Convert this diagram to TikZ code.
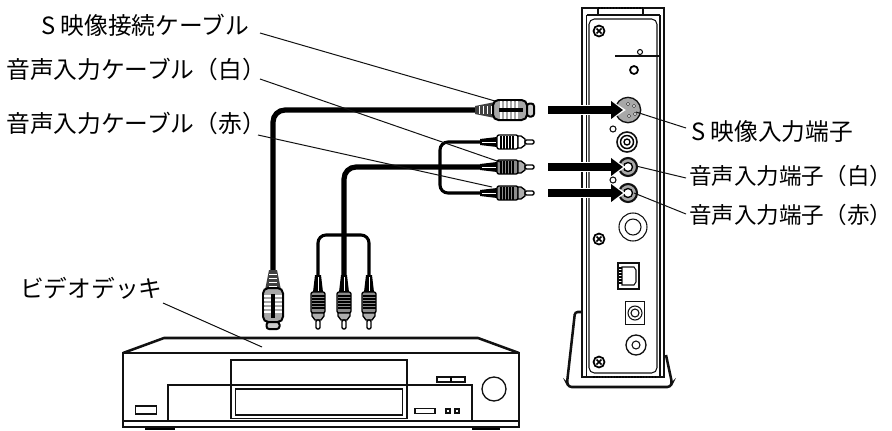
\documentclass[tikz,border=0pt]{standalone}
\usepackage{fontspec}
\setmainfont{Noto Sans CJK JP}
\usetikzlibrary{arrows.meta,positioning,calc}
\definecolor{PlugGrey}{HTML}{8C8C8C}
\definecolor{PortGrey}{HTML}{A8A8A8}
\definecolor{LineDark}{HTML}{111111}
\tikzset{
  labeltext/.style={anchor=west,inner sep=0pt,font=\fontsize{17.8pt}{20pt}\selectfont},
  edgetext/.style={labeltext,font=\fontsize{16.9pt}{20pt}\selectfont},
  leader/.style={draw=LineDark,line width=.75pt},
  cable/.style={draw=black,line width=3.9pt,rounded corners=9pt},
  branch/.style={draw=black,line width=2.3pt,rounded corners=6pt},
  thinline/.style={draw=LineDark,line width=.8pt},
  outline/.style={draw=LineDark,line width=1.9pt},
  halo/.style={draw=white,line width=8pt,shorten >=1.5pt,-{Triangle[length=12pt,width=15pt]}},
  pushto/.style={draw=black,line width=5.8pt,shorten >=3.75pt,-{Triangle[length=9pt,width=13pt]}},
  port/.style={circle,draw=LineDark,line width=.8pt,inner sep=0pt},
  pics/rcaplug/.style={code={
    \fill[black] (0,-3) -- (17,-5) -- (17,5) -- (0,3) -- cycle;
    \draw[white,line width=.5pt] (2,0) -- (16,0);
    \fill[#1,draw=black,line width=1pt,rounded corners=1.5pt] (17,-7) rectangle (38,7);
    \foreach \x in {21,24,27,30,33} \draw[black,line width=.9pt] (\x,-6.5) -- (\x,6.5);
    \fill[#1!70,draw=black,line width=1pt] (38,-6) -- (41,-6) -- (45,-3) -- (45,3) -- (41,6) -- (38,6) -- cycle;
    \fill[white,draw=black,line width=1pt,rounded corners=1pt] (45,-2) -- (54,-2) -- (54,2) -- (45,2) -- cycle;
  }},
  pics/splug/.style={code={
    \fill[black!75] (0,-4) -- (20,-8) -- (20,8) -- (0,4) -- cycle;
    \foreach \x in {4,8,12,16} \draw[white,line width=.5pt] (\x,-4) -- (\x,4);
    \fill[PortGrey,draw=black,line width=1.5pt,rounded corners=4pt] (18,-10) rectangle (52,10);
    \foreach \x in {26,30,34,38,42} \draw[white,line width=.8pt] (\x,-9) -- (\x,9);
    \draw[black,line width=1.2pt] (25,-1) rectangle (47,1);
    \fill[PortGrey!60,draw=black,line width=1.5pt,rounded corners=2pt] (52,-6.5) rectangle (59,6.5);
  }},
}
\begin{document}
\begin{tikzpicture}[x=.75pt,y=-.75pt]
  \useasboundingbox (0,0) rectangle (892,430);
  % labels
  \node[labeltext] (scable) at (41,25) {S 映像接続ケーブル};
  \node[labeltext] (wcable) at (6,69) {音声入力ケーブル（白）};
  \node[labeltext] (rcable) at (6,123) {音声入力ケーブル（赤）};
  \node[labeltext] (vcrlabel) at (20,288) {ビデオデッキ};
  \node[labeltext] (sinput) at (691,132) {S 映像入力端子};
  \node[edgetext] (winput) at (689,176) {音声入力端子（白）};
  \node[edgetext] (rinput) at (689,215) {音声入力端子（赤）};

  % stand and case
  \draw[outline,rounded corners=2pt] (582,312) -- (575,312) -- (567,383) -- (569,387) -- (670,387) -- (672,383) -- (666,355);
  \fill[white,draw=LineDark,line width=1.9pt] (582,8) rectangle (664,377);
  \draw[thinline] (586.5,15) -- (586.5,377) (660,15) -- (660,377) (586.5,15) -- (660,15);
  \draw[thinline,rounded corners=4pt] (589,19) rectangle (657,373);
  \draw[thinline] (598,8) -- (598,15) (643,8) -- (643,15);
  \draw[line width=1.2pt,densely dotted] (598,8) -- (643,8) (593,377) -- (657,377);
  \foreach \p in {(599,31),(599,239),(599,362)} {
    \draw[line width=1.3pt,fill=white] \p circle (5.5);
    \draw[line width=1.1pt] \p ++(-2.5,-2.5) -- ++(5,5) \p ++(2.5,-2.5) -- ++(-5,5);
  }
  \draw[draw=LineDark,line width=1.3pt] (615,56) -- (660,56);
  \draw[thinline] (640,52) circle (2.5);
  \draw[line width=1.3pt] (634,70) circle (4);

  % ports
  \node[port,fill=PortGrey,line width=1pt,minimum size=19pt] (sjack) at (628,110) {};
  \node[port,minimum size=4.5pt] (led1) at (613,129) {};
  \node[port,line width=1.2pt,minimum size=15pt] (rcajack) at (627,142) {};
  \draw[line width=1.1pt] (rcajack) circle (6.5);
  \draw[line width=1pt] (rcajack) circle (3);
  \node[port,fill=PortGrey,line width=1.6pt,minimum size=13.5pt] (wjack) at (628,167) {};
  \fill[white,draw=black,line width=1pt] (wjack.center) circle (4.5);
  \node[port,fill=PortGrey,line width=1.6pt,minimum size=13.5pt] (rjack) at (628,193) {};
  \fill[white,draw=black,line width=1pt] (rjack.center) circle (4.5);
  \node[port,minimum size=21pt] (bigjack) at (633,227) {};
  \draw[thinline] (bigjack) circle (8);
  \node[draw=LineDark,line width=1.1pt,minimum width=15.5pt,minimum height=19.5pt,inner sep=0pt] (lan) at (628.5,276) {};
  \draw[thinline] (622,267) -- (634,267) -- (636,270) -- (636,282) -- (634,285) -- (622,285) -- cycle;
  \foreach \y in {268,271,274,277,280,283} \draw[line width=.8pt] (619,\y) -- (622,\y);
  \node[draw=LineDark,line width=.9pt,minimum width=14pt,minimum height=17pt,inner sep=0pt] (dcjack) at (635,313) {};
  \draw[thinline] (dcjack) circle (7) (dcjack) circle (4);
  \node[port,line width=1pt,minimum size=15pt] (lowjack) at (636,345) {};
  \draw[thinline] (lowjack) circle (4);

  % cables
  \coordinate (splugh) at (475,110);
  \coordinate (splugv) at (273,270);
  \coordinate (wplug) at (480,142);
  \coordinate (mplug) at (480,167);
  \coordinate (rplug) at (480,193);
  \coordinate (lplug) at (318,275);
  \coordinate (cplug) at (344,275);
  \coordinate (dplug) at (369,275);
  \coordinate (jr) at (440,167);
  \coordinate (jd) at (344,235);
  \draw[cable] (splugv) |- (splugh);
  \draw[cable] (cplug) |- (mplug);
  \draw[branch] (jr) |- (wplug);
  \draw[branch] (jr) |- (rplug);
  \draw[branch] (jd) -| (lplug);
  \draw[branch] (jd) -| (dplug);

  % plugs
  \pic at (splugh) {splug};
  \pic[rotate=-90] at (splugv) {splug};
  \pic at (wplug) {rcaplug=white};
  \pic at (mplug) {rcaplug=PlugGrey};
  \pic at (rplug) {rcaplug=PlugGrey};
  \foreach \p in {lplug,cplug,dplug} \pic[rotate=-90] at (\p) {rcaplug=PlugGrey};

  % arrows to the ports
  \coordinate (sfrom) at (548,110);
  \coordinate (wfrom) at (548,167);
  \coordinate (rfrom) at (548,193);
  \foreach \a/\b in {sfrom/sjack,wfrom/wjack,rfrom/rjack} {
    \draw[halo] (\a) -- (\b.center);
    \draw[pushto] (\a) -- (\b.center);
  }
  \foreach \p in {(628,104),(634,106),(629,116),(635,114)} \fill[white,draw=black,line width=.3pt] \p circle (1.7);
  \node[port,fill=white,minimum size=4.5pt] (led2) at (613,180) {};

  % video deck
  \draw[outline,line join=round] (123,353) -- (164,338) -- (478,338) -- (519,353);
  \draw[outline] (123,353) rectangle (519,427);
  \draw[thinline] (123,353) -- (519,353) (123,421) -- (519,421);
  \node[draw=LineDark,line width=1pt,minimum width=132pt,minimum height=18.75pt,inner sep=0pt] (door) at (319,372.5) {};
  \draw[thinline] (168,420) |- (231,385) (407,385) -| (472,420);
  \node[draw=LineDark,line width=1.4pt,minimum width=132pt,minimum height=24.75pt,inner sep=0pt] (tray) at (319,402) {};
  \node[draw=LineDark,line width=.9pt,minimum width=125pt,minimum height=19.5pt,inner sep=0pt] (slot) at (319,402) {};
  \node[circle,draw=LineDark,line width=1pt,minimum size=18pt,inner sep=0pt] (knob) at (494,389) {};
  \node[draw=LineDark,line width=1.1pt,minimum width=15.5pt,minimum height=6pt,inner sep=0pt] (powerbtn) at (146,410) {};
  \node[draw=LineDark,line width=1.1pt,minimum width=15pt,minimum height=4pt,inner sep=0pt] (ejectbtn) at (425,411) {};
  \node[draw=LineDark,line width=1.1pt,minimum size=3pt,inner sep=0pt] (btna) at (448,411) {};
  \node[draw=LineDark,line width=1.1pt,minimum size=3pt,inner sep=0pt] (btnb) at (457,411) {};
  \node[draw=LineDark,line width=1.1pt,minimum width=21pt,minimum height=3.5pt,inner sep=0pt] (slider) at (451,379.5) {};
  \draw[line width=1pt] (451,377) -- (451,382);
  \draw[line width=1.5pt] (145,428.5) -- (175,428.5) (472,428.5) -- (500,428.5);

  % leaders
  \coordinate (sctip) at (495,101);
  \coordinate (wctip) at (500,162);
  \coordinate (rctip) at (492,187);
  \coordinate (vcrtip) at (262,347);
  \coordinate (sjtip) at (636,112);
  \coordinate (wjtip) at (636,166);
  \coordinate (rjtip) at (634,193);
  \draw[leader] (260,33) -- (sctip);
  \draw[leader] (260,79) -- (wctip);
  \draw[leader] (258,135) -- (rctip);
  \draw[leader] (163,303) -- (vcrtip);
  \draw[leader] (sjtip) -- (686,128);
  \draw[leader] (wjtip) -- (686,178);
  \draw[leader] (rjtip) -- (686,214);
\end{tikzpicture}
\end{document}
